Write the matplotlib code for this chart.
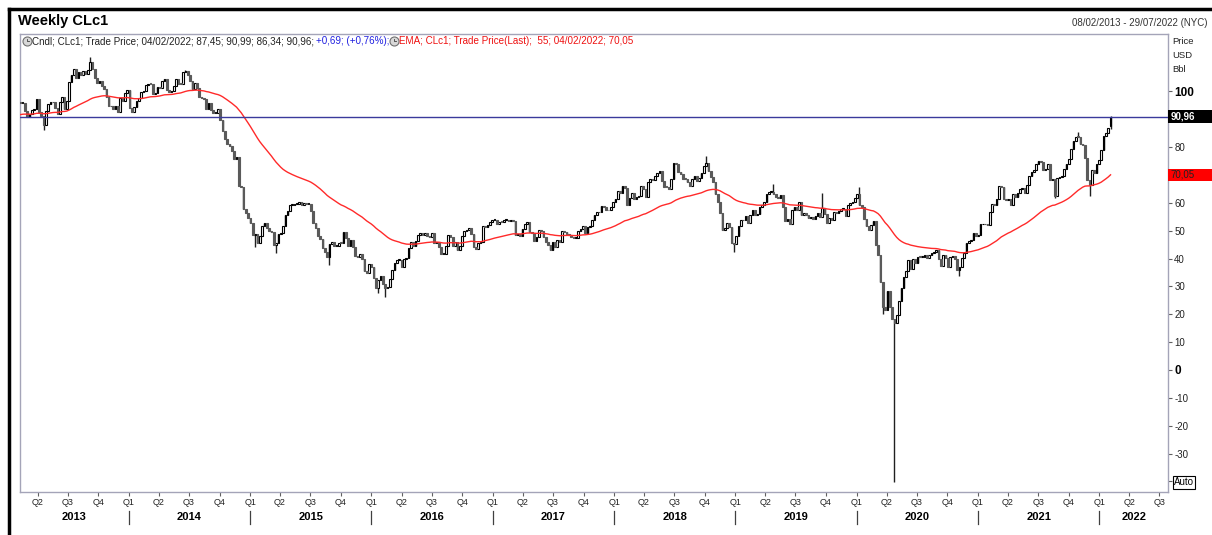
import numpy as np
import pandas as pd
import matplotlib
matplotlib.use('Agg')
import matplotlib.pyplot as plt
import matplotlib.dates as mdates
from matplotlib.patches import Rectangle
from matplotlib.lines import Line2D

plt.rcParams['font.family'] = ['Liberation Sans', 'DejaVu Sans']

# weekly closes of CLc1 (week ending friday)
first_week = '2013-02-08'
close_2013 = [95.72, 95.86, 93.13, 90.68, 91.95, 93.45, 93.71, 97.23, 92.70, 91.29, 88.01, 93.00,
              95.61, 96.04, 96.02, 94.15, 91.97, 96.03, 97.85, 93.69, 96.56, 103.22, 105.95, 108.05,
              104.70, 106.94, 106.03, 107.46, 106.42, 107.65, 110.53, 108.21, 104.67, 102.87, 103.84,
              102.02, 100.81, 97.85, 94.61, 94.60, 93.84, 94.84, 92.72, 97.65, 96.60, 99.32, 100.32]
close_2014 = [93.96, 92.72, 94.37, 96.64, 97.49, 99.88, 100.30, 102.20, 102.59, 102.58, 98.89, 99.46,
              101.67, 101.14, 103.74, 104.30, 100.60, 99.76, 99.99, 102.02, 104.35, 102.71, 102.66,
              106.91, 107.26, 105.74, 103.77, 100.83, 103.13, 101.17, 97.88, 97.65, 97.35, 93.65, 95.96,
              93.29, 92.27, 92.41, 93.54, 89.74, 85.82, 82.75, 81.01, 80.54, 78.65, 75.82, 76.51, 66.15,
              65.84, 57.81, 56.52, 54.73]
close_2015 = [52.69, 48.36, 48.69, 45.59, 48.24, 51.69, 52.78, 50.81, 49.76, 49.61, 44.84, 45.72,
              48.87, 49.14, 51.64, 55.74, 57.15, 59.15, 59.39, 59.69, 59.72, 60.30, 59.13, 59.96, 59.61,
              59.63, 56.93, 52.74, 50.89, 48.14, 47.12, 43.87, 42.50, 40.45, 45.22, 46.05, 44.63, 44.68,
              45.70, 45.54, 49.63, 47.26, 44.60, 46.59, 44.29, 40.74, 40.39, 41.71, 39.97, 35.62, 34.73,
              38.10]
close_2016 = [37.04, 33.16, 29.42, 32.19, 33.62, 30.89, 29.44, 29.64, 32.78, 35.92, 38.50, 39.44,
              39.46, 36.79, 39.72, 40.36, 43.73, 45.92, 44.66, 46.21, 48.41, 49.33, 48.62, 49.07, 47.98,
              47.64, 48.99, 45.41, 45.95, 44.19, 41.60, 41.80, 44.49, 48.52, 47.64, 44.44, 45.88, 43.03,
              44.48, 48.24, 49.81, 50.35, 50.85, 48.70, 44.07, 43.41, 45.69, 46.06, 51.68, 51.50, 51.90,
              53.02, 53.72]
close_2017 = [53.99, 52.37, 53.22, 53.17, 53.83, 53.86, 53.40, 53.99, 53.33, 48.49, 48.78, 47.97,
              50.60, 52.24, 53.18, 49.62, 49.33, 46.22, 47.84, 50.33, 49.80, 47.66, 45.83, 44.74, 43.01,
              46.04, 44.23, 46.54, 45.77, 49.71, 49.58, 48.82, 48.51, 47.87, 47.29, 47.48, 49.89, 50.66,
              51.67, 49.29, 51.45, 51.84, 53.90, 55.64, 56.74, 56.55, 58.95, 58.36, 57.36, 57.30, 58.47,
              60.42]
close_2018 = [61.44, 64.30, 63.37, 66.14, 65.45, 59.20, 61.68, 63.55, 61.25, 62.04, 62.34, 65.88,
              64.94, 62.06, 67.39, 68.38, 68.10, 69.72, 70.70, 71.28, 67.88, 65.81, 65.74, 65.06, 68.58,
              74.15, 73.80, 71.01, 70.46, 68.69, 68.49, 67.63, 65.91, 68.72, 69.80, 67.75, 68.99, 70.78,
              73.25, 74.34, 71.34, 69.12, 67.59, 63.14, 60.19, 56.46, 50.42, 50.93, 52.61, 51.20, 45.59,
              45.33]
close_2019 = [47.96, 51.59, 53.80, 53.69, 55.26, 52.72, 55.59, 57.26, 55.80, 56.07, 58.52, 59.04,
              60.14, 63.08, 63.89, 64.00, 63.30, 61.94, 61.66, 62.76, 58.63, 53.50, 54.10, 52.51, 57.43,
              58.47, 57.51, 60.21, 55.63, 56.20, 55.66, 54.50, 54.87, 54.17, 55.10, 56.52, 54.85, 58.09,
              55.91, 52.81, 54.70, 53.78, 56.66, 56.20, 57.24, 57.72, 57.77, 55.17, 59.20, 60.07, 60.44,
              61.72]
close_2020 = [63.05, 59.04, 58.54, 54.19, 51.56, 50.32, 52.05, 53.38, 44.76, 41.28, 31.73, 22.43,
              21.51, 28.34, 22.76, 18.27, 16.94, 19.78, 24.74, 29.43, 33.25, 35.49, 39.55, 36.26, 39.75,
              38.49, 40.65, 40.55, 40.59, 41.29, 40.27, 41.22, 42.01, 42.34, 42.97, 39.77, 37.33, 41.11,
              40.25, 37.05, 40.60, 40.88, 39.85, 35.79, 37.14, 40.13, 42.15, 45.53, 46.26, 46.57, 49.10,
              48.23]
close_2021 = [48.52, 52.24, 52.36, 52.27, 52.20, 56.85, 59.47, 59.24, 61.50, 66.09, 65.61, 61.42,
              60.97, 61.45, 59.32, 63.13, 62.14, 63.58, 64.90, 65.37, 63.58, 66.32, 69.62, 70.91, 71.64,
              74.05, 75.16, 74.56, 71.81, 72.07, 73.95, 68.28, 68.44, 62.32, 68.74, 69.29, 69.72, 71.97,
              73.98, 75.88, 79.35, 82.28, 83.76, 83.57, 81.27, 80.79, 76.10, 68.15, 66.26, 71.67, 70.86,
              73.79, 75.21]
close_2022 = [78.90, 83.82, 85.14, 86.82, 90.96]

first_open = 96.2
last_ohlc = [87.45, 90.99, 86.34, 90.96]   # 04/02/2022 from the legend
last_change = '+0,69'
last_change_pct = '(+0,76%)'

# notable wicks
wick_high = {'2013-09-06': 112.24, '2014-06-20': 107.73, '2018-10-05': 76.90, '2019-04-26': 66.60,
             '2019-09-20': 63.38, '2020-01-10': 65.65, '2021-10-29': 85.41}
wick_low = {'2013-04-19': 86.06, '2015-01-16': 44.20, '2015-03-20': 42.03, '2015-08-28': 37.75,
            '2016-01-22': 27.56, '2016-02-12': 26.05, '2018-12-28': 42.36, '2020-03-20': 20.06,
            '2020-04-24': -40.32, '2020-11-06': 33.64, '2021-08-20': 61.74, '2021-12-03': 62.43}

ema_span = 55
ema_seed = 91.5

yticks = [100, 90, 80, 70, 60, 50, 40, 30, 20, 10, 0, -10, -20, -30, -40]
ytick_labels = ['100', '', '80', '', '60', '50', '40', '30', '20', '10', '0', '-10', '-20', '-30', 'Auto']

closes = np.array(close_2013 + close_2014 + close_2015 + close_2016 + close_2017 +
                  close_2018 + close_2019 + close_2020 + close_2021 + close_2022)
weeks = pd.date_range(first_week, periods=len(closes), freq='W-FRI')
opens = np.concatenate([[first_open], closes[:-1]])
opens[-1] = last_ohlc[0]
highs = np.maximum(opens, closes)
lows = np.minimum(opens, closes)
highs[-1] = last_ohlc[1]
lows[-1] = last_ohlc[2]
for d, v in wick_high.items():
    highs[weeks.get_loc(pd.Timestamp(d))] = v
for d, v in wick_low.items():
    lows[weeks.get_loc(pd.Timestamp(d))] = v

ema = pd.Series(np.concatenate([[ema_seed], closes])).ewm(span=ema_span, adjust=False).mean().values[1:]

def fmt(v):
    return ('%.2f' % v).replace('.', ',')

W, H = 1212, 535
fig = plt.figure(figsize=(W / 100, H / 100), dpi=100)
fig.patch.set_facecolor('white')
ax = fig.add_axes([20 / W, 43 / H, 1148 / W, 458 / H])

x = mdates.date2num(weeks)
up = closes >= opens
body_lo = np.minimum(opens, closes)
body_h = np.maximum(np.abs(closes - opens), 0.3)

ax.vlines(x, lows, highs, color='#202020', lw=1.0, zorder=2)
ax.bar(x[up], body_h[up], bottom=body_lo[up], width=5.0, facecolor='white',
       edgecolor='black', lw=0.8, zorder=3)
ax.bar(x[~up], body_h[~up], bottom=body_lo[~up], width=5.0, facecolor='#5a5a5a',
       edgecolor='#5a5a5a', lw=0.8, zorder=3)

ax.plot(x, ema, color='#ff2a2a', lw=1.0, zorder=4)
ax.axhline(closes[-1], color='#3a3a9c', lw=1.0, zorder=5)

x0 = mdates.date2num(pd.Timestamp('2013-02-07'))
x1 = mdates.date2num(pd.Timestamp('2022-07-27'))
ax.set_xlim(x0, x1)
ax.set_ylim(-43.8, 120.6)

for s in ax.spines.values():
    s.set_color('#a4a4b8')
    s.set_linewidth(1.0)

# right price axis
ax.yaxis.tick_right()
ax.set_yticks(yticks)
ax.set_yticklabels(ytick_labels)
ax.tick_params(axis='y', direction='out', length=3, width=0.8, pad=1.5, color='#606060',
               labelsize=7, labelcolor='#222222')
for t in ax.get_yticklabels():
    if t.get_text() in ('100', '0'):
        t.set_fontsize(8.5)
        t.set_fontweight('bold')
        t.set_color('black')
    if t.get_text() == 'Auto':
        t.set_bbox(dict(boxstyle='square,pad=0.12', fc='white', ec='black', lw=0.8))
        t.set_color('black')

# quarter ticks
qs = pd.date_range('2013-04-01', '2022-07-01', freq='QS')
ax.set_xticks(mdates.date2num(qs))
ax.set_xticklabels(['Q%d' % q.quarter for q in qs])
ax.tick_params(axis='x', direction='out', length=3, width=0.8, pad=1.5, color='#606060',
               labelsize=6.5, labelcolor='#222222')

# year labels and separators
xt = ax.get_xaxis_transform()
for yr in range(2013, 2023):
    a = max(mdates.date2num(pd.Timestamp('%d-01-01' % yr)), x0)
    b = min(mdates.date2num(pd.Timestamp('%d-01-01' % (yr + 1))), x1)
    ax.text((a + b) / 2, -25 / 458, str(yr), transform=xt, ha='center', va='center',
            fontsize=8, fontweight='bold', clip_on=False)
    if yr > 2013:
        ax.add_line(Line2D([a, a], [-19 / 458, -32 / 458], transform=xt, color='#404040',
                           lw=0.9, clip_on=False))

# price boxes on the right
yt = ax.get_yaxis_transform()
bw = 44 / 1148
ax.add_patch(Rectangle((1.0, closes[-1] - 2.2), bw, 4.4, transform=yt, fc='black', ec='none',
                       clip_on=False, zorder=6))
ax.text(1.002, closes[-1], fmt(closes[-1]), transform=yt, color='white',
        fontsize=7, fontweight='bold', va='center', ha='left', clip_on=False, zorder=7)
ax.add_patch(Rectangle((1.0, ema[-1] - 2.2), bw, 4.4, transform=yt, fc='#ff0000', ec='none',
                       clip_on=False, zorder=6))
ax.text(1.002, ema[-1], fmt(ema[-1]), transform=yt, color='#222222',
        fontsize=7, va='center', ha='left', clip_on=False, zorder=7)

# titles and headers
fig.text(18 / W, 1 - 21 / H, 'Weekly CLc1', fontsize=10.5, fontweight='bold', va='center')
fig.text(1208 / W, 1 - 23 / H, '08/02/2013 - 29/07/2022 (NYC)', fontsize=7, color='#333333',
         ha='right', va='center')
for i, s in enumerate(['Price', 'USD', 'Bbl']):
    fig.text(1172 / W, 1 - (41 + 14 * i) / H, s, fontsize=6.8, color='#222222', va='center')

# legend line with clock icons
def clock(px):
    fig.add_artist(Line2D([px / W], [1 - 41 / H], marker='o', ms=6.5, mfc='#d8d8d8', mec='#707070',
                          mew=0.8, transform=fig.transFigure))
    fig.add_artist(Line2D([px / W, px / W, (px + 2) / W], [1 - 38.5 / H, 1 - 41 / H, 1 - 41 / H],
                          color='#404040', lw=0.6, transform=fig.transFigure))

renderer = fig.canvas.get_renderer()
def chain(parts, px):
    for s, c in parts:
        t = fig.text(px / W, 1 - 41 / H, s, color=c, fontsize=7.1, va='center', ha='left')
        px = t.get_window_extent(renderer=renderer).x1 + 2
    return px

clock(27)
end = chain([('Cndl; CLc1; Trade Price; 04/02/2022; %s; %s; %s; %s;' % tuple(fmt(v) for v in last_ohlc),
              '#222222'),
             ('%s; %s;' % (last_change, last_change_pct), '#2020e0')], 32)
clock(end + 3)
chain([('EMA; CLc1; Trade Price(Last);  %d; 04/02/2022; %s' % (ema_span, fmt(ema[-1])), '#ee1111')],
      end + 8)

# window frame
fig.add_artist(Line2D([9 / W, 1], [1 - 8.5 / H] * 2, color='black', lw=2.5, transform=fig.transFigure))
fig.add_artist(Line2D([9 / W] * 2, [0, 1 - 8.5 / H], color='black', lw=2.5, transform=fig.transFigure))

fig.savefig('out.png', dpi=100)
